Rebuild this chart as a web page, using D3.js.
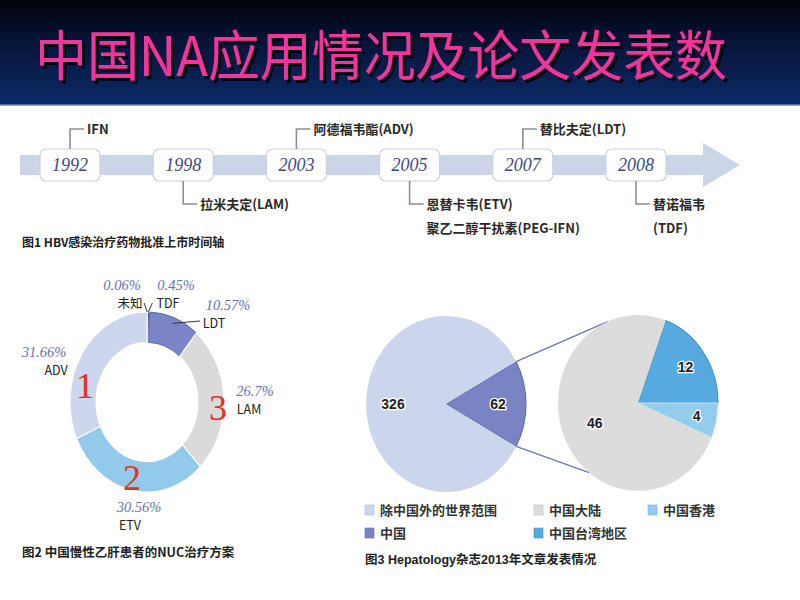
<!DOCTYPE html>
<html>
<head>
<meta charset="utf-8">
<script src="https://cdn.jsdelivr.net/npm/d3@7"></script>
<style>
  body { margin: 0; background: #fff; }
  svg { display: block; }
</style>
</head>
<body>
<div id="chart"></div>
<script>
// fig 1: approval timeline
var years = ['1992', '1998', '2003', '2005', '2007', '2008'];
var drugSide = ['up', 'down', 'up', 'down', 'up', 'down'];
var drugNames = [['IFN'], ['拉米夫定(LAM)'], ['阿德福韦酯(ADV)'],
  ['恩替卡韦(ETV)', '聚乙二醇干扰素(PEG-IFN)'], ['替比夫定(LDT)'], ['替诺福韦', '(TDF)']];

// fig 2: NUC treatment share (%)
var nucNames = ['未知', 'TDF', 'LDT', 'LAM', 'ETV', 'ADV'];
var nucShares = [0.06, 0.45, 10.57, 26.7, 30.56, 31.66];
var nucRankNames = ['ADV', 'ETV', 'LAM'];
var nucRanks = ['1', '2', '3'];

// fig 3: Hepatology 2013 papers
var worldNames = ['中国', '除中国外的世界范围'];
var worldCounts = [62, 326];
var chinaNames = ['中国台湾地区', '中国香港', '中国大陆'];
var chinaCounts = [12, 4, 46];
var legendNames = ['除中国外的世界范围', '中国大陆', '中国香港', '中国', '中国台湾地区'];

var W = 800, H = 600;
var svg = d3.select('#chart').append('svg').attr('width', W).attr('height', H);

// ---- header
var defs = svg.append('defs');
var grad = defs.append('linearGradient').attr('id', 'hdr').attr('x1', 0).attr('y1', 0).attr('x2', 0).attr('y2', 1);
grad.append('stop').attr('offset', '0%').attr('stop-color', '#020308');
grad.append('stop').attr('offset', '35%').attr('stop-color', '#061233');
grad.append('stop').attr('offset', '100%').attr('stop-color', '#0c2a68');
defs.append('filter').attr('id', 'shadow').attr('x', '-5%').attr('y', '-20%').attr('width', '110%').attr('height', '140%')
  .append('feDropShadow').attr('dx', 3).attr('dy', 3).attr('stdDeviation', 0.6)
  .attr('flood-color', '#040410').attr('flood-opacity', 1);
svg.append('rect').attr('width', W).attr('height', 105).attr('fill', 'url(#hdr)');
svg.append('line').attr('x1', 0).attr('x2', W).attr('y1', 105).attr('y2', 105)
  .attr('stroke', '#6f7fa0').attr('stroke-width', 1.5);

svg.append('text').attr('x', 35).attr('y', 76)
  .attr('textLength', 692).attr('lengthAdjust', 'spacingAndGlyphs')
  .attr('font-family', '"Noto Sans CJK SC", sans-serif').attr('font-size', 54)
  .attr('fill', '#f0369b').attr('filter', 'url(#shadow)')
  .text('中国NA应用情况及论文发表数');

var sans = '"Noto Sans CJK SC", "Liberation Sans", sans-serif';
var latinSans = '"Liberation Sans", "Noto Sans CJK SC", sans-serif';
var serif = '"Liberation Serif", "DejaVu Serif", serif';

// ---- fig 1 timeline
var tl = svg.append('g');
var xYear = d3.scalePoint().domain(years).range([70, 636]);
var bandY = 165;
tl.append('rect').attr('x', 20).attr('y', bandY - 10).attr('width', 685).attr('height', 20).attr('fill', '#cbd5e8');
tl.append('path').attr('d', d3.line()([[703, bandY - 22], [740, bandY], [703, bandY + 22]])).attr('fill', '#cbd5e8');

var yr = tl.selectAll('g.yr').data(years).enter().append('g').attr('class', 'yr')
  .attr('transform', function(d) { return 'translate(' + xYear(d) + ',' + bandY + ')'; });
yr.append('rect').attr('x', -30).attr('y', -16).attr('width', 60).attr('height', 32).attr('rx', 6)
  .attr('fill', '#fff').attr('stroke', '#c9d1e2').attr('stroke-width', 1.2);
yr.append('text').attr('text-anchor', 'middle').attr('dy', '0.35em')
  .attr('font-family', serif).attr('font-style', 'italic').attr('font-size', 18).attr('fill', '#3d4a7c')
  .text(function(d) { return d; });

yr.each(function(d, i) {
  var g = d3.select(this);
  var up = drugSide[i] === 'up';
  var y1 = up ? -16 : 16, y2 = up ? -36 : 39;
  g.append('path').attr('d', d3.line()([[0, y1], [0, y2], [14, y2]]))
    .attr('fill', 'none').attr('stroke', '#8a8f9c').attr('stroke-width', 1.6);
  drugNames[i].forEach(function(n, k) {
    g.append('text').attr('x', 17).attr('y', y2 + k * 24).attr('dy', '0.36em')
      .attr('font-family', sans).attr('font-weight', 'bold').attr('font-size', 13).attr('fill', '#2a2a2a')
      .text(n);
  });
});
svg.append('text').attr('x', 22).attr('y', 243).attr('dy', '0.35em')
  .attr('font-family', sans).attr('font-weight', 'bold').attr('font-size', 12).attr('fill', '#222')
  .text('图1 HBV感染治疗药物批准上市时间轴');

// ---- fig 2 donut
var nucColor = d3.scaleOrdinal().domain(nucNames)
  .range(['#c9d2e6', '#23327f', '#7b85c6', '#dadada', '#93c9ea', '#ccd7ee']);
var dc = [147, 402], dR = 77, dr = 51, dStretch = 90 / 77;
var donutPie = d3.pie().sort(null).value(function(d) { return d.v; });
var nucData = donutPie(nucNames.map(function(n, i) { return { name: n, v: nucShares[i] }; }));
var donutArc = d3.arc().innerRadius(dr).outerRadius(dR);
var dg = svg.append('g').attr('transform', 'translate(' + dc[0] + ',' + dc[1] + ') scale(1,' + dStretch + ')');
dg.selectAll('path').data(nucData).enter().append('path')
  .attr('d', donutArc)
  .attr('fill', function(d) { return nucColor(d.data.name); })
  .attr('stroke', function(d) { return d.data.name === 'LDT' ? '#5560a8' : '#fff'; })
  .attr('stroke-width', function(d) { return d.data.name === 'LDT' ? 0.8 : 1; });

// label layout (offsets from donut centre): pct x,y then name x,y
var nucLabelPos = {
  '未知': [-25, -117, -17, -99], 'TDF': [29, -117, 21, -99], 'LDT': [81, -97, 67, -79],
  'LAM': [108, -11, 102, 7], 'ETV': [-8, 105, -17, 123], 'ADV': [-103, -50, -91, -32]
};
var dl = svg.append('g').attr('transform', 'translate(' + dc[0] + ',' + dc[1] + ')');
nucData.forEach(function(d) {
  var p = nucLabelPos[d.data.name];
  dl.append('text').attr('x', p[0]).attr('y', p[1]).attr('dy', '0.35em').attr('text-anchor', 'middle')
    .attr('font-family', serif).attr('font-style', 'italic').attr('font-size', 14.5).attr('fill', '#6a72aa')
    .text(d.data.v + '%');
  dl.append('text').attr('x', p[2]).attr('y', p[3]).attr('dy', '0.36em').attr('text-anchor', 'middle')
    .attr('font-family', sans).attr('font-size', 12.5).attr('fill', '#222')
    .text(d.data.name);
});
// leaders for the small slices
nucData.slice(0, 3).forEach(function(d) {
  var a = (d.startAngle + d.endAngle) / 2;
  var p = nucLabelPos[d.data.name];
  var sx, sy, ex, ey;
  if (d.data.name === 'LDT') {
    var rr = (dR + dr) / 2 + 8;
    sx = rr * Math.sin(a); sy = -rr * Math.cos(a) * dStretch;
    ex = p[2] - 14; ey = p[3] - 2;
  } else {
    sx = dR * Math.sin(a); sy = -dR * Math.cos(a) * dStretch;
    ex = sx + (d.data.name === 'TDF' ? 4 : -3); ey = sy - 9;
  }
  dl.append('line').attr('x1', sx).attr('y1', sy).attr('x2', ex).attr('y2', ey)
    .attr('stroke', '#333').attr('stroke-width', 1);
});
var rankPos = { 'ADV': [-62, -17], 'ETV': [-15, 75], 'LAM': [71, 5] };
nucRankNames.forEach(function(n, i) {
  dl.append('text').attr('x', rankPos[n][0]).attr('y', rankPos[n][1]).attr('dy', '0.35em')
    .attr('text-anchor', 'middle').attr('font-family', serif).attr('font-size', 36).attr('fill', '#e5301d')
    .text(nucRanks[i]);
});
svg.append('text').attr('x', 22).attr('y', 553).attr('dy', '0.35em')
  .attr('font-family', sans).attr('font-weight', 'bold').attr('font-size', 12.5).attr('fill', '#222')
  .text('图2 中国慢性乙肝患者的NUC治疗方案');

// ---- fig 3 pie of pie
var paperColor = d3.scaleOrdinal().domain(legendNames)
  .range(['#cbd6ed', '#dcdcdc', '#92cdee', '#7a84c5', '#56aade']);
var pR = 80, pStretch = 88 / 80;
var lc = [446, 404], rc = [638, 403];
var worldTotal = d3.sum(worldCounts), chinaTotal = d3.sum(chinaCounts);
var worldStart = Math.PI / 2 - Math.PI * worldCounts[0] / worldTotal;
var chinaStart = Math.PI / 2 - 2 * Math.PI * chinaCounts[0] / chinaTotal;
var worldData = d3.pie().sort(null).startAngle(worldStart).endAngle(worldStart + 2 * Math.PI)
  (worldCounts).map(function(d, i) { d.name = worldNames[i]; return d; });
var chinaData = d3.pie().sort(null).startAngle(chinaStart).endAngle(chinaStart + 2 * Math.PI)
  (chinaCounts).map(function(d, i) { d.name = chinaNames[i]; return d; });
var pieArc = d3.arc().innerRadius(0).outerRadius(pR);
var strokeFor = { '中国': '#5962a8', '中国台湾地区': '#3d8cc4', '中国香港': '#cfe9f7' };

function drawPie(c, data, labelR) {
  var g = svg.append('g').attr('transform', 'translate(' + c[0] + ',' + c[1] + ') scale(1,' + pStretch + ')');
  g.selectAll('path').data(data).enter().append('path')
    .attr('d', pieArc)
    .attr('fill', function(d) { return paperColor(d.name); })
    .attr('stroke', function(d) { return strokeFor[d.name] || 'none'; })
    .attr('stroke-width', 1);
  var lg = svg.append('g').attr('transform', 'translate(' + c[0] + ',' + c[1] + ')');
  data.forEach(function(d) {
    var a = (d.startAngle + d.endAngle) / 2, r = labelR[d.name];
    lg.append('text').attr('x', r * Math.sin(a)).attr('y', -r * Math.cos(a) * pStretch).attr('dy', '0.36em')
      .attr('text-anchor', 'middle').attr('font-family', '"Liberation Sans", sans-serif')
      .attr('font-weight', 'bold').attr('font-size', 14).attr('fill', '#222')
      .attr('stroke', '#fff').attr('stroke-width', 2.5).attr('paint-order', 'stroke')
      .text(d.value);
  });
}

// connectors from the China wedge to the breakdown pie
var wedge = worldData[0];
function edgePt(c, a) { return [c[0] + pR * Math.sin(a), c[1] - pR * Math.cos(a) * pStretch]; }
var conn = [[edgePt(lc, wedge.startAngle), edgePt(rc, -0.39)], [edgePt(lc, wedge.endAngle), edgePt(rc, 3.8)]];
drawPie(lc, worldData, { '中国': 52, '除中国外的世界范围': 53 });
conn.forEach(function(s) {
  svg.append('line').attr('x1', s[0][0]).attr('y1', s[0][1]).attr('x2', s[1][0]).attr('y2', s[1][1])
    .attr('stroke', '#6d76b4').attr('stroke-width', 1.3);
});
drawPie(rc, chinaData, { '中国台湾地区': 58, '中国香港': 60, '中国大陆': 47 });

// legend
var legCols = [365, 534, 648], legRows = [510, 533];
var leg = svg.selectAll('g.leg').data(legendNames).enter().append('g').attr('class', 'leg')
  .attr('transform', function(d, i) { return 'translate(' + legCols[i % 3] + ',' + legRows[Math.floor(i / 3)] + ')'; });
leg.append('rect').attr('x', 0).attr('y', -5).attr('width', 9).attr('height', 10)
  .attr('fill', function(d) { return paperColor(d); })
  .attr('stroke', function(d) { return d3.color(paperColor(d)).darker(0.4); }).attr('stroke-width', 0.6);
leg.append('text').attr('x', 15).attr('dy', '0.36em')
  .attr('font-family', sans).attr('font-weight', 'bold').attr('font-size', 13).attr('fill', '#333')
  .text(function(d) { return d; });
svg.append('text').attr('x', 365).attr('y', 560).attr('dy', '0.35em')
  .attr('font-family', latinSans).attr('font-weight', 'bold').attr('font-size', 12.5).attr('fill', '#222')
  .text('图3 Hepatology杂志2013年文章发表情况');
</script>
</body>
</html>
